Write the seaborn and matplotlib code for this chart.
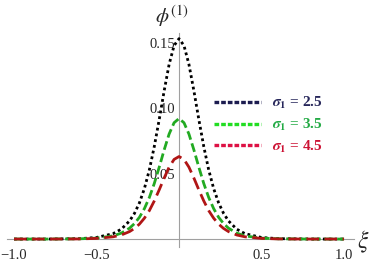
import matplotlib
matplotlib.use("Agg")
import matplotlib.pyplot as plt
from matplotlib.ticker import MultipleLocator, FixedLocator, FixedFormatter
from matplotlib.lines import Line2D
import seaborn as sns
import pandas as pd

# values
xi = [-1.0, -0.8, -0.6, -0.5, -0.4, -0.35, -0.3, -0.27, -0.24, -0.21, -0.18, -0.15,
      -0.12, -0.09, -0.06, -0.03, 0.0, 0.03, 0.06, 0.09, 0.12, 0.15, 0.18, 0.21,
      0.24, 0.27, 0.3, 0.35, 0.4, 0.5, 0.6, 0.8, 1.0]
phi_25 = [0.0, 0.0, 0.0003, 0.0012, 0.0041, 0.0075, 0.0138, 0.0196, 0.0276, 0.0385,
          0.0527, 0.0706, 0.0913, 0.1132, 0.1334, 0.1477, 0.153, 0.1477, 0.1334,
          0.1132, 0.0913, 0.0706, 0.0527, 0.0385, 0.0276, 0.0196, 0.0138, 0.0075,
          0.0041, 0.0012, 0.0003, 0.0, 0.0]
phi_35 = [0.0, 0.0, 0.0002, 0.0007, 0.0024, 0.0045, 0.0083, 0.0118, 0.0166, 0.0232,
          0.0317, 0.0424, 0.0549, 0.0681, 0.0802, 0.0888, 0.092, 0.0888, 0.0802,
          0.0681, 0.0549, 0.0424, 0.0317, 0.0232, 0.0166, 0.0118, 0.0083, 0.0045,
          0.0024, 0.0007, 0.0002, 0.0, 0.0]
phi_45 = [0.0, 0.0, 0.0001, 0.0005, 0.0017, 0.0031, 0.0057, 0.0081, 0.0114, 0.0159,
          0.0217, 0.0291, 0.0376, 0.0466, 0.0549, 0.0608, 0.063, 0.0608, 0.0549,
          0.0466, 0.0376, 0.0291, 0.0217, 0.0159, 0.0114, 0.0081, 0.0057, 0.0031,
          0.0017, 0.0005, 0.0001, 0.0, 0.0]
labels = [r"$\mathbfit{\sigma}_\mathbf{1}$ = 2.5",
          r"$\mathbfit{\sigma}_\mathbf{1}$ = 3.5",
          r"$\mathbfit{\sigma}_\mathbf{1}$ = 4.5"]
x_ticks = [-1.0, -0.5, 0.5, 1.0]
x_ticklabels = ["\u22121.0", "\u22120.5", "0.5", "1.0"]
y_ticks = [0.05, 0.10, 0.15]
y_ticklabels = ["0.05", "0.10", "0.15"]

sns.set_style("white")
plt.rcParams["font.family"] = ["Liberation Serif", "DejaVu Serif"]
plt.rcParams["mathtext.fontset"] = "stix"

fig = plt.figure(figsize=(3.71, 2.61), dpi=100)
ax = fig.add_axes([0.020, 0.054, 0.934, 0.818])

df = pd.DataFrame({"xi": xi, "a": phi_25, "b": phi_35, "c": phi_45})

# curves
sns.lineplot(data=df, x="xi", y="a", ax=ax, color="black", lw=2.0,
             linestyle=(0, (1.0, 1.1)), zorder=3)
sns.lineplot(data=df, x="xi", y="b", ax=ax, color="#22aa22", lw=2.0,
             linestyle=(0, (3.2, 1.4)), zorder=3)
sns.lineplot(data=df, x="xi", y="c", ax=ax, color="#b01515", lw=2.0,
             linestyle=(0, (4.5, 2.0)), zorder=3)

ax.set_xlim(-1.04, 1.06)
ax.set_ylim(-0.006, 0.157)
ax.set_xlabel("")
ax.set_ylabel("")

for side in ["top", "right"]:
    ax.spines[side].set_visible(False)
ax.spines["left"].set_position(("data", 0))
ax.spines["bottom"].set_position(("data", 0))
for side in ["left", "bottom"]:
    ax.spines[side].set_color("#a0a0a0")
    ax.spines[side].set_linewidth(0.8)

ax.xaxis.set_major_locator(FixedLocator(x_ticks))
ax.xaxis.set_major_formatter(FixedFormatter(x_ticklabels))
ax.xaxis.set_minor_locator(MultipleLocator(0.1))
ax.yaxis.set_major_locator(FixedLocator(y_ticks))
ax.yaxis.set_major_formatter(FixedFormatter(y_ticklabels))
ax.yaxis.set_minor_locator(MultipleLocator(0.01))

ax.tick_params(axis="both", which="both", direction="in", color="#a0a0a0",
               labelsize=10.5, width=0.7)
ax.tick_params(axis="both", which="major", length=4.5)
ax.tick_params(axis="both", which="minor", length=2.5)
ax.tick_params(axis="x", which="major", pad=7)
ax.tick_params(axis="y", which="major", pad=3)

# axis labels
fig.text(172 / 371, 1 - 16 / 261, r"$\phi^{(1)}$", fontsize=15,
         ha="center", va="center")
fig.text(363 / 371, 1 - 242 / 261, r"$\xi$", fontsize=17,
         ha="center", va="center")

# legend
handles = [
    Line2D([], [], color="#1c1c50", lw=2.4, linestyle=(0, (1.4, 0.6))),
    Line2D([], [], color="#22dd22", lw=2.4, linestyle=(0, (1.4, 0.6))),
    Line2D([], [], color="#dd1144", lw=2.4, linestyle=(0, (1.4, 0.6))),
]
ax.legend(handles, labels, loc="upper left", bbox_to_anchor=(214 / 371, 1 - 95 / 261),
          bbox_transform=fig.transFigure, frameon=False,
          prop={"weight": "bold", "size": 11}, handlelength=3.1,
          handletextpad=0.7, labelspacing=0.38, borderpad=0, borderaxespad=0,
          labelcolor=["#26265a", "#22aa44", "#cc1133"])

fig.savefig("out.png", dpi=100)
